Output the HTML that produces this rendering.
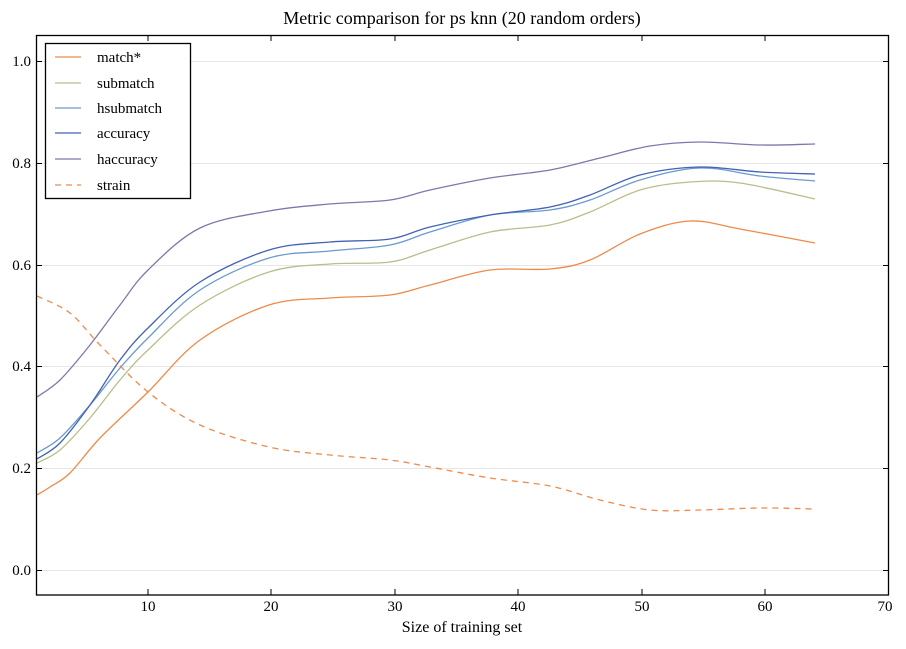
<!DOCTYPE html>
<html><head><meta charset="utf-8"><style>
body{margin:0;background:#fff;}
svg text{font-family:"Liberation Serif","DejaVu Serif",serif;fill:#000;}
</style></head><body>
<svg id="s" width="906" height="644" xmlns="http://www.w3.org/2000/svg">
<rect width="906" height="644" fill="#fff"/>
<g stroke="#e6e6e6" stroke-width="1">
<line x1="36" x2="889" y1="570.5" y2="570.5"/><line x1="36" x2="889" y1="468.5" y2="468.5"/>
<line x1="36" x2="889" y1="366.5" y2="366.5"/><line x1="36" x2="889" y1="265.5" y2="265.5"/>
<line x1="36" x2="889" y1="163.5" y2="163.5"/><line x1="36" x2="889" y1="61.5" y2="61.5"/>
</g>
<g id="curves" fill="none" stroke-width="1.3"></g>
<rect x="36.5" y="35.5" width="852" height="559.5" fill="none" stroke="#000" stroke-width="1.3"/>
<g stroke="#000" stroke-width="1">
<line x1="148" x2="148" y1="595" y2="589"/><line x1="271" x2="271" y1="595" y2="589"/>
<line x1="395" x2="395" y1="595" y2="589"/><line x1="518" x2="518" y1="595" y2="589"/>
<line x1="642" x2="642" y1="595" y2="589"/><line x1="765" x2="765" y1="595" y2="589"/>
<line x1="148" x2="148" y1="35" y2="41"/><line x1="271" x2="271" y1="35" y2="41"/>
<line x1="395" x2="395" y1="35" y2="41"/><line x1="518" x2="518" y1="35" y2="41"/>
<line x1="642" x2="642" y1="35" y2="41"/><line x1="765" x2="765" y1="35" y2="41"/>
<line x1="36" x2="42" y1="570.5" y2="570.5"/><line x1="36" x2="42" y1="468.5" y2="468.5"/>
<line x1="36" x2="42" y1="366.5" y2="366.5"/><line x1="36" x2="42" y1="265.5" y2="265.5"/>
<line x1="36" x2="42" y1="163.5" y2="163.5"/><line x1="36" x2="42" y1="61.5" y2="61.5"/>
<line x1="889" x2="883" y1="570.5" y2="570.5"/><line x1="889" x2="883" y1="468.5" y2="468.5"/>
<line x1="889" x2="883" y1="366.5" y2="366.5"/><line x1="889" x2="883" y1="265.5" y2="265.5"/>
<line x1="889" x2="883" y1="163.5" y2="163.5"/><line x1="889" x2="883" y1="61.5" y2="61.5"/>
</g>
<g font-size="15" text-anchor="end">
<text x="31" y="575">0.0</text><text x="31" y="473">0.2</text><text x="31" y="371">0.4</text>
<text x="31" y="270">0.6</text><text x="31" y="168">0.8</text><text x="31" y="66">1.0</text>
</g>
<g font-size="15" text-anchor="middle">
<text x="148" y="611">10</text><text x="271" y="611">20</text><text x="395" y="611">30</text>
<text x="518" y="611">40</text><text x="642" y="611">50</text><text x="765" y="611">60</text><text x="885" y="611">70</text>
<text x="462" y="632" font-size="16">Size of training set</text>
<text x="462" y="24" font-size="18">Metric comparison for ps knn (20 random orders)</text>
</g>
<rect x="45.5" y="43.5" width="145" height="155" fill="#fff" stroke="#000" stroke-width="1.3"/>
<g stroke-width="1.3">
<line x1="55" x2="81" y1="57" y2="57" stroke="#ee8a4a"/>
<line x1="55" x2="81" y1="83" y2="83" stroke="#b6bf8a"/>
<line x1="55" x2="81" y1="108" y2="108" stroke="#6a9ad0"/>
<line x1="55" x2="81" y1="133" y2="133" stroke="#4262b4"/>
<line x1="55" x2="81" y1="159" y2="159" stroke="#8474ac"/>
<line x1="55" x2="81" y1="185" y2="185" stroke="#ee8a4a" stroke-dasharray="6,5"/>
</g>
<g font-size="15">
<text x="97" y="62">match*</text><text x="97" y="88">submatch</text><text x="97" y="113">hsubmatch</text>
<text x="97" y="138">accuracy</text><text x="97" y="164">haccuracy</text><text x="97" y="190">strain</text>
</g>
</svg>
<script>
var S=[
["#ee8a4a","",[[37,495],[50,487],[70,473],[100,438],[148,392],[200,340],[269,305],[330,298],[390,295],[430,285],[490,270],[550,269],[590,260],[640,234],[690,221],[740,229],[815,243]]],
["#b6bf8a","",[[37,463],[60,450],[90,418],[120,380],[148,350],[200,305],[269,272],[330,264],[390,262],[430,250],[490,232],[550,225],[590,212],[640,190],[690,182],[740,183],[815,199]]],
["#6a9ad0","",[[37,453],[60,438],[90,405],[120,368],[148,338],[200,290],[269,258],[330,251],[390,245],[430,232],[490,215],[550,210],[590,200],[640,180],[700,168],[760,176],[815,181]]],
["#4262b4","",[[37,459],[60,443],[90,405],[120,360],[148,328],[200,282],[269,250],[330,242],[390,239],[430,227],[490,215],[550,207],[590,195],[640,175],[700,167],[760,172],[815,174]]],
["#8474ac","",[[37,397],[60,380],[90,345],[120,305],[148,270],[200,228],[269,211],[330,204],[390,200],[430,190],[490,178],[550,170],[600,158],[650,146],[700,142],[760,145],[815,144]]],
["#ee8a4a","6,5",[[37,296],[70,313],[100,345],[148,392],[200,425],[269,447],[330,455],[390,460],[430,467],[490,478],[550,486],[600,500],[650,510],[700,510],[760,508],[815,509]]]
];
var g=document.getElementById("curves");
S.forEach(function(s){var p=s[2],d="M"+p[0][0]+","+p[0][1];
for(var i=0;i<p.length-1;i++){var a=p[i-1]||p[i],b=p[i],c=p[i+1],e=p[i+2]||c;
d+="C"+(b[0]+(c[0]-a[0])/6)+","+(b[1]+(c[1]-a[1])/6)+" "+(c[0]-(e[0]-b[0])/6)+","+(c[1]-(e[1]-b[1])/6)+" "+c[0]+","+c[1];}
var el=document.createElementNS("http://www.w3.org/2000/svg","path");el.setAttribute("d",d);el.setAttribute("stroke",s[0]);
if(s[1])el.setAttribute("stroke-dasharray",s[1]);g.appendChild(el);});
</script>
</body></html>
